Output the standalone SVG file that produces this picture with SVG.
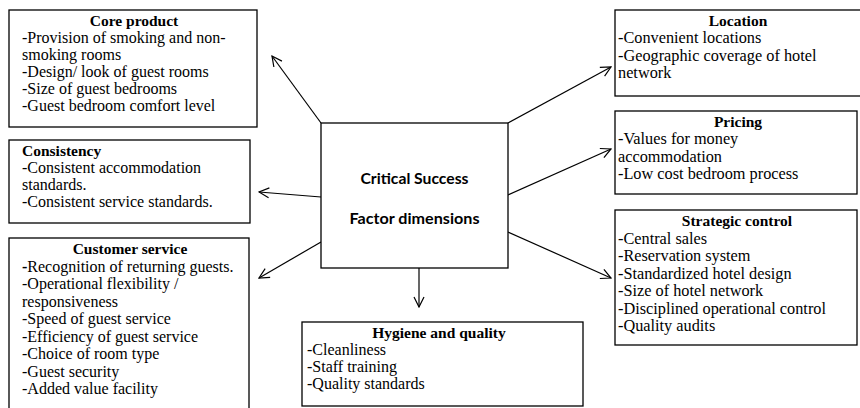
<svg xmlns="http://www.w3.org/2000/svg" width="860" height="408" viewBox="0 0 860 408">
<defs>
<style>
.box{fill:#fff;stroke:#000;stroke-width:1.3}
.t{font-family:"Liberation Serif","Times New Roman",serif;font-size:15.5px;font-weight:bold;fill:#000}
.tc{text-anchor:middle}
.b{font-family:"Liberation Serif","Times New Roman",serif;font-size:16px;fill:#000}
.br{font-family:"Liberation Serif","Times New Roman",serif;font-size:16.3px;fill:#000}
.c{font-family:Lato,"Open Sans",sans-serif;font-size:15px;font-weight:bold;fill:#000;text-anchor:middle}
.con{fill:none;stroke:#000;stroke-width:1.2;marker-end:url(#ah)}
</style>
<marker id="ah" viewBox="0 0 12 12" refX="11" refY="6" markerWidth="12" markerHeight="12" markerUnits="userSpaceOnUse" orient="auto">
<path d="M1,1 L11,6 L1,11" fill="none" stroke="#000" stroke-width="1.2"/>
</marker>
</defs>
<rect width="860" height="408" fill="#fff"/>

<g id="connectors">
<line class="con" x1="321" y1="123" x2="272" y2="56"/>
<line class="con" x1="321" y1="197" x2="259" y2="192"/>
<line class="con" x1="321" y1="242" x2="259" y2="278"/>
<line class="con" x1="419" y1="268" x2="419" y2="307"/>
<line class="con" x1="508" y1="123" x2="611" y2="67"/>
<line class="con" x1="508" y1="195" x2="611" y2="149"/>
<line class="con" x1="508" y1="232" x2="611" y2="278"/>
</g>

<g id="center">
<rect class="box" x="321" y="123" width="187" height="145"/>
<text class="c" x="414.5" y="184" textLength="108" lengthAdjust="spacingAndGlyphs">Critical Success</text>
<text class="c" x="414.5" y="224" textLength="130" lengthAdjust="spacingAndGlyphs">Factor dimensions</text>
</g>

<g id="core-product">
<rect class="box" x="9" y="10" width="248" height="117"/>
<text class="t tc" x="134" y="26">Core product</text>
<text class="b" x="22" y="43">-Provision of smoking and non-</text>
<text class="b" x="22" y="60">smoking rooms</text>
<text class="b" x="22" y="77">-Design/ look of guest rooms</text>
<text class="b" x="22" y="94">-Size of guest bedrooms</text>
<text class="b" x="22" y="111">-Guest bedroom comfort level</text>
</g>

<g id="consistency">
<rect class="box" x="9" y="140" width="241" height="83"/>
<text class="t" x="22" y="156">Consistency</text>
<text class="b" x="22" y="173">-Consistent accommodation</text>
<text class="b" x="22" y="190">standards.</text>
<text class="b" x="22" y="207">-Consistent service standards.</text>
</g>

<g id="customer-service">
<rect class="box" x="9" y="238" width="240" height="185"/>
<text class="t tc" x="130" y="254">Customer service</text>
<text class="b" x="22" y="271.5"><tspan font-weight="bold">-</tspan>Recognition of returning guests.</text>
<text class="b" x="22" y="289">-Operational flexibility /</text>
<text class="b" x="22" y="306.5">responsiveness</text>
<text class="b" x="22" y="324">-Speed of guest service</text>
<text class="b" x="22" y="341.5">-Efficiency of guest service</text>
<text class="b" x="22" y="359">-Choice of room type</text>
<text class="b" x="22" y="376.5">-Guest security</text>
<text class="b" x="22" y="394">-Added value facility</text>
</g>

<g id="location">
<rect class="box" x="615" y="10" width="260" height="86"/>
<text class="t tc" x="738" y="26">Location</text>
<text class="br" x="618" y="43">-Convenient locations</text>
<text class="br" x="618" y="60.5">-Geographic coverage of hotel</text>
<text class="br" x="618" y="78">network</text>
</g>

<g id="pricing">
<rect class="box" x="615" y="111" width="242" height="83"/>
<text class="t tc" x="738" y="127">Pricing</text>
<text class="br" x="618" y="144">-Values for money</text>
<text class="br" x="618" y="161.5">accommodation</text>
<text class="br" x="618" y="179">-Low cost bedroom process</text>
</g>

<g id="strategic-control">
<rect class="box" x="615" y="210" width="242" height="135"/>
<text class="t tc" x="737" y="226">Strategic control</text>
<text class="br" x="618" y="243.5">-Central sales</text>
<text class="br" x="618" y="261">-Reservation system</text>
<text class="br" x="618" y="278.5">-Standardized hotel design</text>
<text class="br" x="618" y="296">-Size of hotel network</text>
<text class="br" x="618" y="313.5">-Disciplined operational control</text>
<text class="br" x="618" y="331">-Quality audits</text>
</g>

<g id="hygiene-quality">
<rect class="box" x="302" y="322" width="281" height="84"/>
<text class="t tc" x="439" y="338">Hygiene and quality</text>
<text class="b" x="307" y="355">-Cleanliness</text>
<text class="b" x="307" y="372">-Staff training</text>
<text class="b" x="307" y="389">-Quality standards</text>
</g>
</svg>
